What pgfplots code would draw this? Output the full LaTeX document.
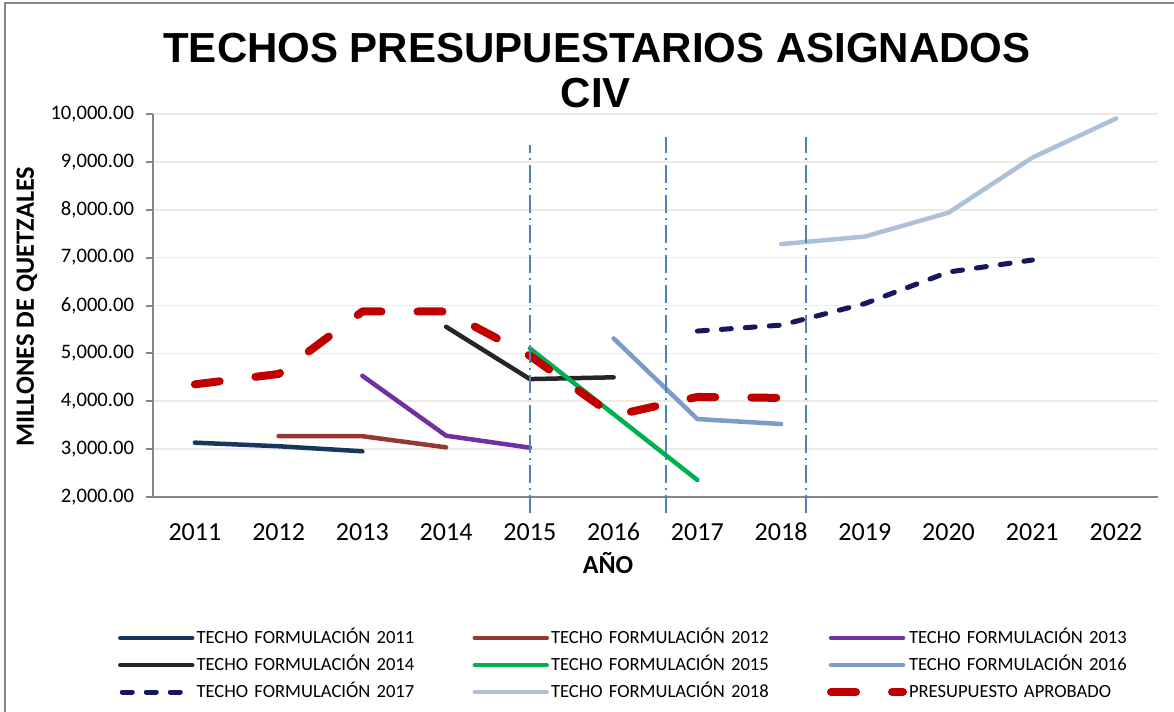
\documentclass[border=0pt]{standalone}
\usepackage{fontspec}
\setmainfont{Carlito}
\newfontfamily\titlefont{Liberation Sans}
\usepackage{pgfplots}
\pgfplotsset{compat=1.18}
\pgfplotsset{shortlegend/.style={legend image code/.code={\draw[##1] (1pt,0pt) -- (31pt,0pt);}}}

\definecolor{c2011}{HTML}{17375E}
\definecolor{c2012}{HTML}{953735}
\definecolor{c2013}{HTML}{7030A0}
\definecolor{c2014}{HTML}{262626}
\definecolor{c2015}{HTML}{00B050}
\definecolor{c2016}{HTML}{7B9BCB}
\definecolor{c2017}{HTML}{17175F}
\definecolor{c2018}{HTML}{ADC0DA}
\definecolor{aprob}{HTML}{C00000}
\definecolor{vline}{HTML}{4F81BD}
\definecolor{axisgrey}{HTML}{868686}
\definecolor{gridc}{HTML}{EEECE1}

\begin{document}
\begin{tikzpicture}
\useasboundingbox (-76.5pt,-107.5pt) rectangle (510.5pt,248.5pt);
\draw[axisgrey, line width=1pt] (-74pt,-108pt) -- (-74pt,247pt) -- (511pt,247pt);

\begin{axis}[
    scale only axis,
    width=502.5pt, height=191.5pt,
    xmin=2010.5, xmax=2022.5,
    ymin=2000, ymax=10000,
    clip=false,
    axis x line*=bottom, axis y line*=left,
    axis line style={axisgrey, line width=1pt},
    xtick={2011,2012,...,2022},
    xticklabels={2011,2012,2013,2014,2015,2016,2017,2018,2019,2020,2021,2022},
    xtick style={draw=none},
    extra x ticks={2010.5,2011.5,...,2022.5},
    extra x tick labels={},
    extra x tick style={xtick style={axisgrey, line width=1pt}},
    ytick={2000,3000,...,10000},
    scaled y ticks=false,
    tick align=outside,
    major tick length=3.5pt,
    ytick style={axisgrey, line width=1pt},
    ymajorgrids,
    grid style={gridc, line width=0.8pt},
    xticklabel style={font=\fontsize{13}{15}\selectfont, anchor=north, text height=8.5pt, text depth=0pt, yshift=-6pt},
    yticklabel style={font=\fontsize{10.3}{12}\selectfont, xshift=-2.5pt},
    y tick label style={/pgf/number format/fixed, /pgf/number format/fixed zerofill,
        /pgf/number format/precision=2, /pgf/number format/1000 sep={,},
        /pgf/number format/assume math mode=true},
    legend columns=3,
    legend cell align=left,
    legend image code/.code={\draw[#1] (0pt,0pt) -- (36pt,0pt);},
    legend style={at={(axis description cs:-0.0348,-0.3330)}, anchor=north west,
        draw=none, fill=none, inner sep=0pt, outer sep=0pt,
        font=\fontsize{9.3}{11}\selectfont,
        nodes={text width=137pt, inner xsep=1pt, inner ysep=2.25pt, text height=7pt, text depth=2pt}},
    every axis plot/.append style={line cap=round, line join=round},
]
\addplot[c2011, line width=2.25pt] coordinates {(2011,3135) (2012,3060) (2013,2955)};
\addlegendentry{TECHO FORMULACIÓN 2011}
\addplot[c2012, line width=2.25pt] coordinates {(2012,3272) (2013,3270) (2014,3037)};
\addlegendentry{TECHO FORMULACIÓN 2012}
\addplot[c2013, line width=2.25pt] coordinates {(2013,4532) (2014,3280) (2015,3030)};
\addlegendentry{TECHO FORMULACIÓN 2013}
\addplot[c2014, line width=2.25pt] coordinates {(2014,5555) (2015,4463) (2016,4500)};
\addlegendentry{TECHO FORMULACIÓN 2014}
\addplot[c2015, line width=2.25pt] coordinates {(2015,5104) (2016,3730) (2017,2355)};
\addlegendentry{TECHO FORMULACIÓN 2015}
\addplot[c2016, line width=2.25pt] coordinates {(2016,5313) (2017,3628) (2018,3524)};
\addlegendentry{TECHO FORMULACIÓN 2016}
\addplot[c2017, line width=2.5pt, dash pattern=on 5pt off 7pt, shortlegend]
    coordinates {(2017,5466) (2018,5590) (2019,6040) (2020,6700) (2021,6950)};
\addlegendentry{TECHO FORMULACIÓN 2017}
\addplot[c2018, line width=2.25pt] coordinates {(2018,7282) (2019,7440) (2020,7940) (2021,9090) (2022,9906)};
\addlegendentry{TECHO FORMULACIÓN 2018}
\addplot[aprob, line width=4pt, dash pattern=on 12.5pt off 18pt] coordinates {(2011,4353) (2012,4570) (2013,5875) (2014,5875) (2015,4950) (2016,3700) (2017,4090) (2018,4070)};
\addlegendentry{PRESUPUESTO APROBADO}

\addplot[forget plot, vline, line width=1pt, line cap=butt, dash pattern=on 9pt off 2.5pt on 1pt off 2.5pt] coordinates {(2015,1666) (2015,9349)};
\addplot[forget plot, vline, line width=1pt, line cap=butt, dash pattern=on 9pt off 2.5pt on 1pt off 2.5pt] coordinates {(2016.62,1666) (2016.62,9516)};
\addplot[forget plot, vline, line width=1pt, line cap=butt, dash pattern=on 9pt off 2.5pt on 1pt off 2.5pt] coordinates {(2018.30,1666) (2018.30,9516)};
\end{axis}

\node[font=\titlefont\bfseries\fontsize{21}{25}\selectfont, anchor=base] at (222pt,217pt) {TECHOS PRESUPUESTARIOS ASIGNADOS};
\node[font=\titlefont\bfseries\fontsize{21}{25}\selectfont, anchor=base] at (221.5pt,194.5pt) {CIV};
\node[rotate=90, font=\bfseries\fontsize{13.2}{15}\selectfont] at (-63pt,95.25pt) {MILLONES DE QUETZALES};
\node[font=\bfseries\fontsize{13}{15}\selectfont] at (227.5pt,-33pt) {AÑO};
\end{tikzpicture}
\end{document}
